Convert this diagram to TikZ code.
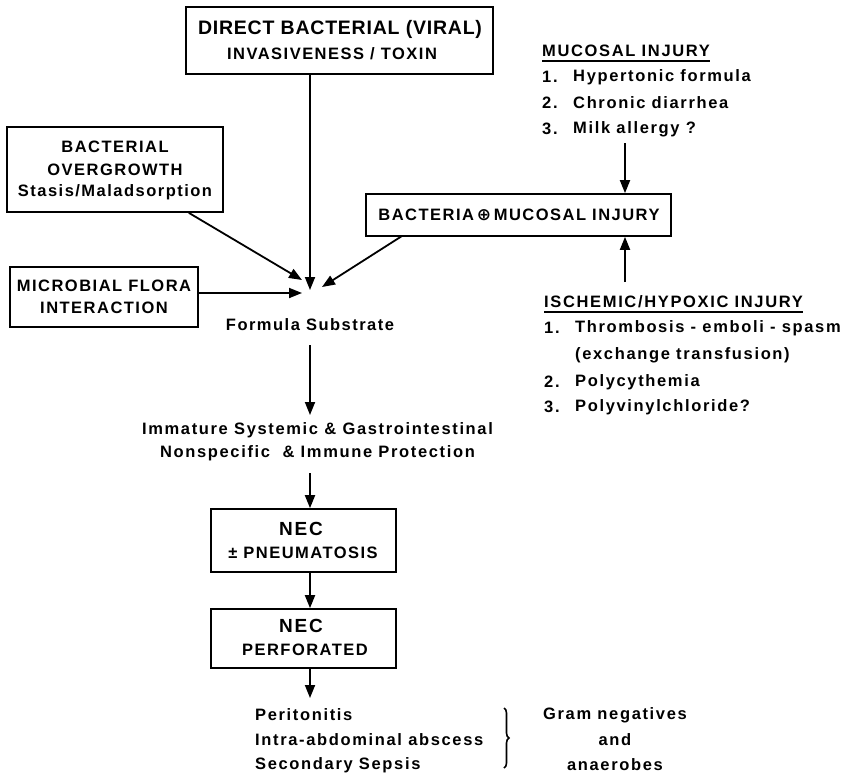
\documentclass[tikz,border=0pt]{standalone}
\usepackage{fontspec}
\setmainfont{Liberation Sans}[LetterSpace=9]
\newfontfamily\symfont{DejaVu Sans}
\usetikzlibrary{arrows.meta,decorations.pathreplacing}
\tikzset{
  box/.style={draw, line width=1.7pt, inner sep=0pt, align=center},
  lbl/.style={inner sep=0pt, font=\bfseries\fontsize{16.5}{18}\selectfont},
  itm/.style={inner sep=0pt, anchor=west, font=\bfseries\fontsize{16.5}{18}\selectfont\addfontfeature{LetterSpace=10}},
  conn/.style={line width=1.8pt, -{Triangle[length=13pt,width=10pt]}},
  plain/.style={line width=1.8pt},
}
\begin{document}
\begin{tikzpicture}[x=1pt,y=-1pt]
\useasboundingbox (0,0) rectangle (854,774);
% boxes
\node[box, minimum width=307pt, minimum height=67pt] (top) at (339.5,40.5) {};
\node[lbl, font=\bfseries\fontsize{19.5}{22}\selectfont\addfontfeature{LetterSpace=4}] (topa) at (340,29) {DIRECT BACTERIAL (VIRAL)};
\node[lbl] (topb) at (332,54) {INVASIVENESS / TOXIN};

\node[box, minimum width=216pt, minimum height=85pt] (over) at (115,169.5) {};
\node[lbl] (overa) at (115,147) {BACTERIAL};
\node[lbl] (overb) at (115,170) {OVERGROWTH};
\node[lbl] (overc) at (115,192) {Stasis/Maladsorption};

\node[box, minimum width=188pt, minimum height=60pt] (micro) at (104,297) {};
\node[lbl] (microa) at (104,286) {MICROBIAL FLORA};
\node[lbl] (microb) at (104,308) {INTERACTION};

\node[box, minimum width=305pt, minimum height=42pt] (bact) at (518.5,215) {};
\node[lbl] (bacta) at (519,215) {BACTERIA\,{\symfont\fontsize{17}{18}\selectfont ⊕}\,MUCOSAL INJURY};

\coordinate (fs) at (310,290);
\node[lbl] (form) at (310,325) {Formula Substrate};

\node[lbl, align=center, font=\bfseries\fontsize{16.5}{23}\selectfont\addfontfeature{LetterSpace=10}] (imm) at (317.5,441.5) {Immature Systemic \& Gastrointestinal\\Nonspecific \ \& Immune Protection};

\node[box, minimum width=185pt, minimum height=63pt] (nec1) at (303.5,540.5) {};
\node[lbl, font=\bfseries\fontsize{19}{20}\selectfont] (nec1a) at (301,529) {NEC};
\node[lbl] (nec1b) at (303,553) {± PNEUMATOSIS};

\node[box, minimum width=185pt, minimum height=59pt] (nec2) at (303.5,638.5) {};
\node[lbl, font=\bfseries\fontsize{19}{20}\selectfont] (nec2a) at (301,626) {NEC};
\node[lbl] (nec2b) at (305,650) {PERFORATED};

% mucosal injury list
\node[itm] (muc) at (542,51) {MUCOSAL INJURY};
\draw[plain] ([yshift=-4pt]muc.south west) -- ([yshift=-4pt]muc.south east);
\node[itm] (m1n) at (542,77) {1.};
\node[itm] (m1) at (573,77) {Hypertonic formula};
\node[itm] (m2n) at (542,103) {2.};
\node[itm] (m2) at (573,103) {Chronic diarrhea};
\node[itm] (m3n) at (542,129) {3.};
\node[itm] (m3) at (573,129) {Milk allergy ?};
\coordinate (mucend) at (625,143);

% ischemic list
\node[itm] (isc) at (544,302) {ISCHEMIC/HYPOXIC INJURY};
\draw[plain] ([yshift=-4pt]isc.south west) -- ([yshift=-4pt]isc.south east);
\node[itm] (i1n) at (544,328) {1.};
\node[itm] (i1) at (575,328) {Thrombosis - emboli - spasm};
\node[itm] (i1b) at (575,355) {(exchange transfusion)};
\node[itm] (i2n) at (544,382) {2.};
\node[itm] (i2) at (575,382) {Polycythemia};
\node[itm] (i3n) at (544,407) {3.};
\node[itm] (i3) at (575,407) {Polyvinylchloride?};
\coordinate (iscend) at (625,282);

% bottom lists
\node[itm] (b1) at (255,715) {Peritonitis};
\node[itm] (b2) at (255,740) {Intra-abdominal abscess};
\node[itm] (b3) at (255,765) {Secondary Sepsis};
\coordinate (brt) at (504,708);
\coordinate (brb) at (504,768);
\draw[line width=1.6pt, decorate, decoration={brace, amplitude=5pt}] (brt) -- (brb);
\node[lbl, font=\bfseries\fontsize{16.5}{18}\selectfont\addfontfeature{LetterSpace=10}] (g1) at (615,715) {Gram negatives};
\node[lbl, font=\bfseries\fontsize{16.5}{18}\selectfont\addfontfeature{LetterSpace=10}] (g2) at (615,740) {and};
\node[lbl, font=\bfseries\fontsize{16.5}{18}\selectfont\addfontfeature{LetterSpace=10}] (g3) at (615,765) {anaerobes};

% connectors
\draw[conn] (top.south -| fs) -- (fs);
\draw[conn] (over.south east) ++(-35,0) coordinate (os) (os) -- (302,280) coordinate (ot);
\draw[conn] (micro.east |- 0,293) coordinate (ms) -- (302,293) coordinate (mt);
\draw[conn] (402,236) coordinate (bs) -- (322,287) coordinate (bt);
\draw[conn] (mucend) -- (mucend |- bact.north);
\draw[conn] (iscend) -- (iscend |- bact.south);
\draw[conn] (310,345) coordinate (fb) -- (310,415) coordinate (it);
\draw[conn] (310,473) coordinate (ib) -- (nec1.north -| ib);
\draw[conn] (nec1.south -| fs) -- (nec2.north -| fs);
\draw[conn] (nec2.south -| fs) -- (310,698) coordinate (pe);
\end{tikzpicture}
\end{document}
